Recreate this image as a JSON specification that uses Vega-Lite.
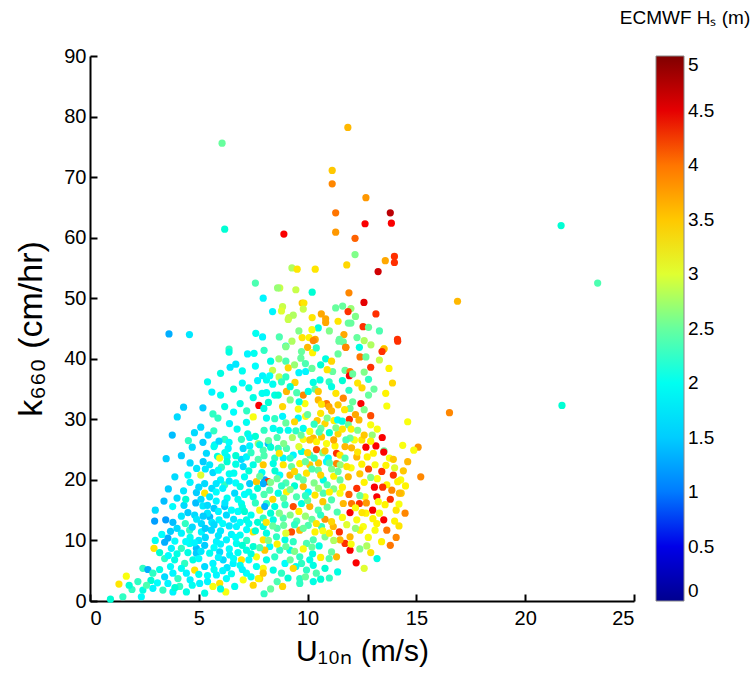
{
"$schema":"https://vega.github.io/schema/vega-lite/v6.json",
"width":544,"height":545,
"autosize":"none",
"padding":{"left":90,"top":56,"right":122,"bottom":76},
"background":"white",
"config":{"view":{"stroke":null},"font":"Liberation Sans",
"axis":{"domainColor":"black","domainWidth":2,"tickColor":"black","tickWidth":2,"tickSize":-7,"labelFont":"Liberation Sans","labelFontSize":20,"labelColor":"black","grid":false,"titleFont":"Liberation Sans","titleFontSize":30,"titleFontWeight":"normal","titleColor":"black"}},
"data":{"values":[
{"u":6.07,"k":75.6,"h":2.5},{"u":6.19,"k":61.4,"h":2.2},{"u":11.85,"k":78.2,"h":3.6},{"u":11.13,"k":71.1,"h":3.5},{"u":11.13,"k":68.9,"h":3.9},{"u":12.68,"k":66.6,"h":3.8},{"u":11.29,"k":64.1,"h":4.0},{"u":13.8,"k":64.1,"h":4.7},{"u":12.64,"k":62.3,"h":4.4},{"u":13.85,"k":62.4,"h":4.4},{"u":8.91,"k":60.6,"h":4.4},{"u":11.29,"k":60.9,"h":3.8},{"u":12.18,"k":59.9,"h":4.1},{"u":12.18,"k":57.2,"h":2.6},{"u":13.99,"k":56.9,"h":4.3},{"u":13.99,"k":55.9,"h":4.3},{"u":13.57,"k":56.2,"h":3.7},{"u":11.8,"k":55.5,"h":3.4},{"u":13.24,"k":54.4,"h":4.6},{"u":9.28,"k":55.0,"h":2.8},{"u":9.52,"k":54.8,"h":3.3},{"u":10.35,"k":54.8,"h":3.3},{"u":8.72,"k":51.7,"h":2.9},{"u":9.46,"k":51.4,"h":2.9},{"u":10.21,"k":51.0,"h":2.2},{"u":11.9,"k":50.9,"h":3.9},{"u":16.89,"k":49.5,"h":3.6},{"u":12.59,"k":49.3,"h":4.5},{"u":8.85,"k":48.6,"h":2.9},{"u":9.75,"k":49.2,"h":3.5},{"u":9.83,"k":49.2,"h":3.3},{"u":9.8,"k":48.2,"h":2.9},{"u":11.29,"k":48.4,"h":2.5},{"u":11.61,"k":48.7,"h":2.5},{"u":11.99,"k":48.3,"h":2.7},{"u":11.86,"k":47.8,"h":4.3},{"u":13.14,"k":47.4,"h":4.3},{"u":9.14,"k":46.8,"h":2.9},{"u":9.34,"k":47.2,"h":2.8},{"u":10.21,"k":46.8,"h":3.3},{"u":10.63,"k":47.4,"h":3.7},{"u":10.83,"k":46.6,"h":3.7},{"u":10.83,"k":46.0,"h":3.7},{"u":10.49,"k":45.1,"h":2.1},{"u":11.87,"k":45.9,"h":2.5},{"u":11.99,"k":45.9,"h":2.5},{"u":12.55,"k":45.3,"h":4.3},{"u":11.67,"k":44.0,"h":3.7},{"u":14.13,"k":43.2,"h":4.3},{"u":9.75,"k":43.5,"h":3.3},{"u":10.07,"k":43.5,"h":3.2},{"u":10.35,"k":43.2,"h":3.7},{"u":9.28,"k":42.9,"h":2.8},{"u":11.46,"k":43.2,"h":2.5},{"u":11.64,"k":42.8,"h":2.5},{"u":12.27,"k":43.5,"h":2.5},{"u":12.6,"k":43.0,"h":2.8},{"u":12.91,"k":42.3,"h":2.8},{"u":9.0,"k":42.1,"h":2.2},{"u":11.75,"k":41.9,"h":4.0},{"u":13.51,"k":41.7,"h":3.2},
{"u":7.6,"k":52.5,"h":2.4},{"u":8.62,"k":51.7,"h":2.7},{"u":7.96,"k":50.0,"h":1.8},{"u":8.8,"k":47.9,"h":3.0},{"u":8.39,"k":47.8,"h":1.8},{"u":9.11,"k":46.5,"h":2.9},{"u":3.63,"k":44.1,"h":1.3},{"u":4.57,"k":44.0,"h":1.7},{"u":7.62,"k":44.2,"h":2.0},{"u":7.93,"k":43.6,"h":1.8},{"u":9.0,"k":42.0,"h":2.6},{"u":6.39,"k":41.6,"h":2.3},
{"u":21.65,"k":62.0,"h":2.2},{"u":23.33,"k":52.5,"h":2.4},{"u":21.69,"k":32.3,"h":2.2},{"u":16.52,"k":31.1,"h":3.9},{"u":14.6,"k":29.6,"h":3.1},{"u":14.37,"k":25.7,"h":3.1},{"u":15.08,"k":25.4,"h":3.8},{"u":14.88,"k":24.9,"h":3.1},{"u":15.2,"k":20.5,"h":3.9},{"u":14.28,"k":20.0,"h":3.1},{"u":14.3,"k":17.8,"h":3.5},
{"u":6.39,"k":41.1,"h":2.1},{"u":7.24,"k":40.8,"h":1.8},{"u":7.54,"k":40.9,"h":2.0},{"u":6.7,"k":39.1,"h":1.7},{"u":6.44,"k":38.6,"h":1.7},{"u":7.93,"k":37.2,"h":1.8},{"u":8.11,"k":36.5,"h":2.0},{"u":7.91,"k":34.3,"h":2.0},{"u":8.11,"k":34.4,"h":2.0},{"u":7.5,"k":33.6,"h":2.1},{"u":7.76,"k":32.3,"h":4.4},{"u":7.99,"k":31.8,"h":2.1},{"u":6.9,"k":32.6,"h":2.1},{"u":6.19,"k":32.1,"h":2.1},{"u":5.19,"k":31.9,"h":1.5},{"u":5.65,"k":30.9,"h":2.3},{"u":5.88,"k":30.2,"h":2.3},{"u":4.01,"k":30.4,"h":1.6},{"u":7.5,"k":30.4,"h":3.1},{"u":8.11,"k":30.2,"h":2.0},{"u":6.41,"k":29.3,"h":1.8},{"u":7.19,"k":29.5,"h":2.0},{"u":5.09,"k":28.7,"h":1.6},{"u":5.69,"k":28.1,"h":2.3},{"u":6.76,"k":28.4,"h":2.0},{"u":3.78,"k":27.4,"h":1.4},{"u":4.52,"k":26.5,"h":2.3},{"u":5.43,"k":27.4,"h":1.6},{"u":5.19,"k":26.2,"h":1.5},{"u":7.25,"k":27.6,"h":2.1},{"u":7.34,"k":27.0,"h":1.8},{"u":6.19,"k":26.7,"h":2.3},{"u":6.96,"k":26.7,"h":2.3},{"u":5.73,"k":25.8,"h":1.8},{"u":6.39,"k":26.2,"h":1.9},{"u":6.35,"k":25.2,"h":1.8},{"u":5.93,"k":26.4,"h":1.6},{"u":5.35,"k":24.4,"h":1.6},{"u":5.86,"k":23.9,"h":2.1},{"u":6.3,"k":23.8,"h":1.8},{"u":5.96,"k":23.6,"h":3.1},{"u":7.04,"k":25.2,"h":1.6},{"u":7.34,"k":25.6,"h":1.8},{"u":7.73,"k":26.0,"h":2.7},{"u":8.19,"k":26.0,"h":1.4},{"u":7.96,"k":24.9,"h":2.4},{"u":6.96,"k":23.4,"h":1.6},{"u":7.19,"k":23.8,"h":1.8},{"u":5.7,"k":25.5,"h":2.0},{"u":7.73,"k":23.4,"h":2.4},
{"u":10.0,"k":41.9,"h":3.6},{"u":10.23,"k":41.0,"h":3.2},{"u":9.72,"k":41.2,"h":2.5},{"u":10.26,"k":43.0,"h":3.9},{"u":11.44,"k":42.9,"h":2.5},{"u":11.76,"k":41.9,"h":3.9},{"u":12.38,"k":41.9,"h":2.1},{"u":13.51,"k":41.6,"h":3.6},{"u":13.42,"k":41.2,"h":4.3},{"u":14.14,"k":42.9,"h":4.3},{"u":12.41,"k":40.3,"h":4.0},{"u":12.68,"k":40.3,"h":2.5},{"u":8.68,"k":40.0,"h":2.7},{"u":9.0,"k":39.6,"h":2.4},{"u":9.69,"k":40.1,"h":2.5},{"u":10.83,"k":40.0,"h":2.1},{"u":8.39,"k":38.1,"h":2.9},{"u":8.26,"k":37.2,"h":1.9},{"u":8.69,"k":37.0,"h":2.9},{"u":9.11,"k":38.5,"h":3.4},{"u":9.6,"k":37.7,"h":1.8},{"u":9.91,"k":37.9,"h":1.8},{"u":11.15,"k":37.9,"h":2.5},{"u":11.72,"k":38.1,"h":2.5},{"u":11.95,"k":37.9,"h":4.0},{"u":11.92,"k":37.2,"h":4.4},{"u":12.07,"k":37.5,"h":2.5},{"u":13.74,"k":38.4,"h":3.2},{"u":13.05,"k":35.0,"h":2.5},{"u":13.59,"k":34.3,"h":3.2},{"u":13.64,"k":32.2,"h":3.1},{"u":12.45,"k":32.6,"h":4.4},{"u":11.64,"k":33.5,"h":3.9},{"u":12.07,"k":32.9,"h":2.5},{"u":11.95,"k":31.8,"h":2.5},{"u":11.3,"k":34.3,"h":3.3},{"u":10.87,"k":32.6,"h":4.0},{"u":10.98,"k":32.1,"h":3.7},{"u":10.49,"k":33.2,"h":3.6},{"u":10.64,"k":32.5,"h":3.3},{"u":9.88,"k":32.6,"h":3.1},{"u":9.61,"k":32.9,"h":2.1},{"u":9.8,"k":34.0,"h":3.9},{"u":9.42,"k":36.1,"h":3.4},{"u":9.03,"k":34.6,"h":3.6},{"u":10.26,"k":36.1,"h":2.1},{"u":10.57,"k":36.5,"h":2.1},{"u":10.99,"k":36.2,"h":2.3},{"u":11.1,"k":35.4,"h":2.1},{"u":10.34,"k":35.0,"h":2.4},{"u":10.49,"k":34.6,"h":3.5},{"u":10.03,"k":34.6,"h":2.1},{"u":8.49,"k":34.0,"h":2.1},{"u":8.65,"k":34.0,"h":2.2},{"u":8.85,"k":32.1,"h":3.4},{"u":8.49,"k":30.1,"h":2.3},{"u":8.85,"k":30.5,"h":1.8},{"u":9.57,"k":31.7,"h":3.1},{"u":9.57,"k":30.2,"h":1.8},{"u":9.91,"k":30.5,"h":3.1},{"u":10.44,"k":29.8,"h":3.5},{"u":10.8,"k":29.3,"h":3.4},{"u":11.21,"k":29.8,"h":3.2},{"u":11.38,"k":29.9,"h":1.9},{"u":11.59,"k":29.7,"h":2.1},{"u":11.92,"k":30.0,"h":4.3},{"u":11.87,"k":29.1,"h":2.5},{"u":12.36,"k":29.9,"h":3.6},{"u":12.9,"k":29.1,"h":3.1},{"u":12.97,"k":27.4,"h":2.7},{"u":13.43,"k":27.0,"h":4.4},{"u":13.14,"k":25.6,"h":4.4},{"u":12.68,"k":25.4,"h":4.4},{"u":13.51,"k":24.8,"h":2.5},{"u":13.02,"k":24.4,"h":3.2},{"u":12.74,"k":23.8,"h":3.2},{"u":13.76,"k":23.6,"h":3.1},{"u":13.94,"k":23.4,"h":3.5},{"u":12.49,"k":26.6,"h":3.3},{"u":12.15,"k":26.6,"h":3.1},{"u":11.95,"k":26.9,"h":2.5},{"u":11.76,"k":26.6,"h":2.4},{"u":11.26,"k":25.6,"h":3.2},{"u":11.72,"k":25.5,"h":3.6},{"u":12.02,"k":25.3,"h":3.6},{"u":11.33,"k":24.4,"h":4.3},{"u":11.49,"k":24.1,"h":3.3},{"u":10.87,"k":26.0,"h":3.1},{"u":10.41,"k":25.0,"h":4.2},{"u":10.64,"k":27.1,"h":3.5},{"u":10.26,"k":26.9,"h":3.6},{"u":10.41,"k":26.3,"h":3.2},{"u":9.8,"k":26.7,"h":3.1},{"u":10.1,"k":26.6,"h":3.5},{"u":10.61,"k":28.5,"h":2.5},{"u":10.53,"k":27.9,"h":2.4},{"u":9.8,"k":28.5,"h":2.0},{"u":9.46,"k":28.1,"h":2.3},{"u":9.11,"k":28.2,"h":2.0},{"u":8.72,"k":28.2,"h":2.1},{"u":8.42,"k":28.5,"h":2.0},{"u":8.65,"k":25.2,"h":2.3},{"u":9.03,"k":25.2,"h":2.4},{"u":9.34,"k":24.1,"h":1.8},{"u":9.72,"k":24.7,"h":2.1},{"u":10.1,"k":24.1,"h":2.4},{"u":8.88,"k":23.6,"h":1.8},{"u":8.49,"k":23.6,"h":2.3},{"u":10.95,"k":23.6,"h":1.9},{"u":11.72,"k":23.6,"h":2.4},{"u":12.26,"k":23.8,"h":3.6},{"u":11.33,"k":22.7,"h":3.9},{"u":12.49,"k":22.6,"h":3.2},{"u":13.1,"k":22.5,"h":3.1},
{"u":13.94,"k":20.8,"h":4.3},{"u":13.41,"k":21.4,"h":4.3},{"u":14.14,"k":19.7,"h":3.2},{"u":13.64,"k":19.2,"h":3.2},{"u":13.07,"k":18.8,"h":4.4},{"u":13.45,"k":18.8,"h":4.3},{"u":13.87,"k":18.3,"h":3.9},{"u":14.22,"k":17.8,"h":3.6},{"u":13.18,"k":17.2,"h":4.4},{"u":12.64,"k":17.2,"h":3.1},{"u":13.25,"k":16.4,"h":3.1},{"u":13.56,"k":15.9,"h":3.2},{"u":14.07,"k":15.0,"h":3.3},{"u":14.48,"k":14.5,"h":3.9},{"u":12.99,"k":15.0,"h":4.4},{"u":13.3,"k":14.5,"h":3.1},{"u":12.68,"k":14.5,"h":3.2},{"u":12.26,"k":18.6,"h":4.3},{"u":12.38,"k":16.1,"h":4.3},{"u":12.02,"k":16.1,"h":4.0},{"u":11.95,"k":14.6,"h":4.4},{"u":11.64,"k":16.1,"h":3.6},{"u":11.36,"k":14.7,"h":2.4},{"u":12.26,"k":13.4,"h":3.1},{"u":12.56,"k":12.3,"h":3.1},{"u":13.18,"k":12.8,"h":3.2},{"u":13.1,"k":11.7,"h":3.1},{"u":13.64,"k":11.7,"h":4.0},{"u":14.07,"k":10.5,"h":3.9},{"u":12.79,"k":10.5,"h":3.1},{"u":12.72,"k":9.1,"h":2.8},{"u":12.41,"k":11.7,"h":3.2},{"u":11.95,"k":10.6,"h":3.6},{"u":11.46,"k":11.4,"h":4.3},{"u":11.18,"k":12.3,"h":3.6},{"u":11.1,"k":13.1,"h":3.4},{"u":10.8,"k":13.5,"h":3.8},{"u":11.72,"k":9.5,"h":4.3},{"u":11.95,"k":8.4,"h":4.4},{"u":11.49,"k":10.1,"h":3.6},{"u":12.23,"k":6.3,"h":4.4},{"u":13.19,"k":7.0,"h":2.1},{"u":11.38,"k":4.8,"h":2.1},{"u":11.33,"k":7.3,"h":3.6},{"u":10.99,"k":7.0,"h":2.4},{"u":11.1,"k":8.1,"h":2.5},{"u":10.53,"k":9.1,"h":2.1},{"u":10.26,"k":10.1,"h":2.4},{"u":9.95,"k":9.5,"h":2.4},{"u":10.23,"k":7.8,"h":2.1},{"u":10.1,"k":6.8,"h":2.1},{"u":9.64,"k":7.3,"h":2.3},{"u":9.72,"k":6.2,"h":2.3},{"u":9.46,"k":5.7,"h":2.0},{"u":10.26,"k":5.9,"h":2.1},{"u":10.6,"k":3.6,"h":2.2},{"u":10.26,"k":3.2,"h":2.1},{"u":9.64,"k":2.9,"h":2.3},{"u":9.64,"k":3.7,"h":2.3},{"u":9.34,"k":5.4,"h":3.4},{"u":8.85,"k":2.4,"h":3.4},{"u":7.8,"k":3.7,"h":3.4},{"u":8.03,"k":20.0,"h":1.2},{"u":8.19,"k":19.7,"h":4.3},{"u":7.96,"k":19.4,"h":1.3},{"u":10.03,"k":18.0,"h":1.9},{"u":11.1,"k":21.8,"h":2.6},
{"u":7.96,"k":22.5,"h":3.5},{"u":8.42,"k":22.7,"h":2.1},{"u":8.88,"k":22.5,"h":3.3},{"u":9.26,"k":22.2,"h":2.5},{"u":9.64,"k":22.7,"h":3.2},{"u":10.1,"k":22.5,"h":3.5},{"u":10.49,"k":21.6,"h":2.5},{"u":10.87,"k":23.0,"h":1.9},{"u":8.72,"k":20.8,"h":1.9},{"u":9.19,"k":20.8,"h":3.6},{"u":9.57,"k":20.5,"h":2.4},{"u":9.95,"k":21.1,"h":3.3},{"u":10.72,"k":20.0,"h":2.1},{"u":11.49,"k":20.0,"h":2.5},{"u":11.87,"k":20.5,"h":3.6},{"u":8.26,"k":18.3,"h":2.4},{"u":8.65,"k":17.8,"h":2.1},{"u":9.03,"k":18.0,"h":3.2},{"u":9.49,"k":17.2,"h":2.4},{"u":9.8,"k":18.9,"h":3.6},{"u":10.34,"k":17.5,"h":3.3},{"u":10.72,"k":17.8,"h":2.4},{"u":11.1,"k":16.7,"h":2.4},{"u":11.49,"k":17.8,"h":3.1},{"u":8.11,"k":16.1,"h":2.3},{"u":8.49,"k":15.6,"h":2.1},{"u":8.96,"k":15.9,"h":2.3},{"u":9.34,"k":15.6,"h":4.2},{"u":9.72,"k":16.1,"h":2.1},{"u":10.1,"k":15.6,"h":3.6},{"u":10.49,"k":15.0,"h":2.4},{"u":7.96,"k":13.7,"h":2.3},{"u":8.42,"k":13.4,"h":2.1},{"u":8.88,"k":13.7,"h":2.4},{"u":9.26,"k":11.4,"h":4.2},{"u":9.64,"k":11.7,"h":3.6},{"u":10.03,"k":12.5,"h":2.4},{"u":10.34,"k":11.4,"h":3.2},{"u":10.64,"k":12.3,"h":2.3},{"u":8.11,"k":11.2,"h":2.1},{"u":8.57,"k":10.6,"h":2.3},{"u":8.96,"k":10.1,"h":2.1},{"u":9.34,"k":9.8,"h":2.3},{"u":8.26,"k":9.0,"h":1.9},{"u":8.72,"k":8.4,"h":2.3},{"u":9.19,"k":8.4,"h":2.1},{"u":8.11,"k":6.8,"h":2.1},{"u":8.49,"k":7.3,"h":2.3},{"u":8.96,"k":6.2,"h":1.9},{"u":8.42,"k":5.1,"h":2.1},{"u":7.96,"k":5.4,"h":3.1},{"u":9.95,"k":5.1,"h":2.3},
{"u":5.09,"k":20.8,"h":3.0},{"u":5.65,"k":21.2,"h":1.6},{"u":6.04,"k":22.1,"h":2.3},{"u":6.61,"k":21.1,"h":2.0},{"u":5.27,"k":19.4,"h":1.6},{"u":6.19,"k":19.2,"h":2.3},{"u":4.89,"k":17.9,"h":1.5},{"u":5.27,"k":17.8,"h":3.3},{"u":4.32,"k":15.8,"h":1.6},{"u":4.86,"k":16.2,"h":1.4},{"u":5.19,"k":15.7,"h":1.7},{"u":5.7,"k":15.3,"h":1.5},{"u":6.19,"k":15.6,"h":1.5},{"u":6.65,"k":17.8,"h":1.6},{"u":6.96,"k":16.1,"h":2.0},{"u":2.97,"k":13.2,"h":1.2},{"u":3.48,"k":13.4,"h":1.2},{"u":3.81,"k":13.0,"h":1.4},{"u":4.38,"k":12.8,"h":2.3},{"u":4.81,"k":14.2,"h":1.6},{"u":5.12,"k":12.8,"h":1.6},{"u":5.5,"k":13.9,"h":1.4},{"u":5.93,"k":13.4,"h":1.8},{"u":6.27,"k":14.2,"h":1.6},{"u":6.73,"k":12.3,"h":1.8},{"u":4.58,"k":11.7,"h":2.3},{"u":5.12,"k":11.4,"h":1.8},{"u":5.58,"k":11.7,"h":1.6},{"u":3.43,"k":9.7,"h":1.3},{"u":3.58,"k":10.4,"h":1.3},{"u":3.74,"k":8.7,"h":1.8},{"u":4.2,"k":8.7,"h":2.3},{"u":4.58,"k":9.5,"h":2.0},{"u":4.89,"k":8.7,"h":1.4},{"u":5.27,"k":9.2,"h":1.5},{"u":5.81,"k":9.8,"h":1.8},{"u":6.27,"k":10.1,"h":1.8},{"u":6.73,"k":9.5,"h":2.0},{"u":2.94,"k":8.7,"h":3.3},{"u":2.43,"k":5.4,"h":2.3},{"u":2.66,"k":5.2,"h":1.3},{"u":2.89,"k":4.6,"h":2.3},{"u":1.67,"k":4.1,"h":3.1},{"u":1.33,"k":2.8,"h":3.3},{"u":1.93,"k":1.9,"h":2.3},{"u":1.51,"k":0.7,"h":2.3},{"u":0.94,"k":0.3,"h":2.2},{"u":2.36,"k":0.7,"h":1.9},{"u":2.43,"k":1.8,"h":2.1},{"u":2.89,"k":2.1,"h":1.8},{"u":3.35,"k":1.8,"h":2.3},{"u":3.58,"k":2.9,"h":1.8},{"u":3.81,"k":1.5,"h":1.8},{"u":4.12,"k":2.4,"h":2.3},{"u":4.43,"k":1.5,"h":2.1},{"u":3.43,"k":4.0,"h":1.6},{"u":3.81,"k":4.6,"h":1.8},{"u":4.04,"k":3.7,"h":2.3},{"u":4.43,"k":4.6,"h":1.8},{"u":4.81,"k":5.1,"h":3.3},{"u":5.04,"k":2.9,"h":1.8},{"u":5.27,"k":1.3,"h":2.1},{"u":5.65,"k":2.4,"h":3.1},{"u":5.96,"k":2.9,"h":3.3},{"u":6.24,"k":1.5,"h":3.1},{"u":5.81,"k":4.3,"h":1.8},{"u":6.27,"k":3.7,"h":1.9},{"u":6.65,"k":2.4,"h":2.0},{"u":7.04,"k":3.5,"h":3.1},{"u":7.5,"k":2.6,"h":3.4},{"u":7.19,"k":4.6,"h":1.9},{"u":7.73,"k":3.7,"h":3.2},{"u":7.96,"k":4.6,"h":3.5},{"u":7.65,"k":5.7,"h":2.0},{"u":6.96,"k":6.8,"h":3.3},{"u":6.58,"k":6.2,"h":1.8},{"u":6.12,"k":6.8,"h":1.6},{"u":5.65,"k":6.2,"h":1.8},{"u":5.27,"k":5.7,"h":1.6},{"u":4.73,"k":6.8,"h":2.1},{"u":4.35,"k":6.2,"h":2.3},{"u":3.89,"k":6.8,"h":2.1},{"u":3.43,"k":7.0,"h":2.3},{"u":4.89,"k":7.9,"h":1.5},{"u":5.5,"k":7.9,"h":2.0},{"u":5.96,"k":8.1,"h":1.6},{"u":6.42,"k":7.6,"h":1.8},{"u":7.19,"k":8.4,"h":2.1},{"u":7.65,"k":7.3,"h":3.1},{"u":8.03,"k":8.4,"h":3.5},{"u":7.96,"k":10.1,"h":3.3},{"u":7.5,"k":11.4,"h":3.3},{"u":7.96,"k":12.3,"h":2.1},{"u":7.19,"k":13.4,"h":2.1},{"u":7.8,"k":15.0,"h":3.1},{"u":8.03,"k":15.6,"h":1.3},{"u":7.5,"k":17.2,"h":2.1},{"u":7.34,"k":19.4,"h":1.5},{"u":7.65,"k":19.7,"h":3.5},{"u":7.04,"k":22.2,"h":1.6},
{"u":4.6,"k":22.8,"h":1.6},{"u":4.9,"k":21.9,"h":1.7},{"u":5.2,"k":23.0,"h":1.5},
{"u":5.4,"k":14.5,"h":1.7},{"u":5.8,"k":16.5,"h":1.8},{"u":6.1,"k":12.8,"h":1.9},{"u":6.5,"k":11.0,"h":1.8},{"u":5.9,"k":10.8,"h":1.7},{"u":6.8,"k":14.8,"h":1.9},{"u":6.3,"k":17.0,"h":2.0},{"u":5.6,"k":18.6,"h":1.6},{"u":6.9,"k":10.9,"h":2.0},{"u":7.2,"k":11.8,"h":1.9},{"u":7.0,"k":15.5,"h":2.1},{"u":6.6,"k":13.5,"h":1.7},{"u":5.3,"k":10.5,"h":1.6},{"u":4.9,"k":13.5,"h":1.7},{"u":4.6,"k":10.5,"h":2.0},{"u":4.2,"k":11.2,"h":1.8},{"u":3.9,"k":9.9,"h":1.9},{"u":4.5,"k":8.0,"h":2.1},{"u":5.0,"k":7.0,"h":1.9},{"u":5.9,"k":7.2,"h":1.8},{"u":6.3,"k":5.5,"h":1.7},{"u":6.9,"k":5.9,"h":2.0},{"u":7.3,"k":6.8,"h":1.9},{"u":7.5,"k":9.0,"h":2.2},{"u":7.2,"k":10.0,"h":2.3},{"u":7.7,"k":13.0,"h":2.2},{"u":7.4,"k":14.2,"h":2.0},{"u":7.6,"k":16.2,"h":2.3},{"u":8.3,"k":14.5,"h":2.2},{"u":8.6,"k":12.0,"h":2.4},{"u":8.9,"k":12.5,"h":2.5},{"u":9.2,"k":14.2,"h":2.6},{"u":9.5,"k":13.2,"h":2.4},{"u":9.9,"k":14.0,"h":2.7},{"u":10.2,"k":13.5,"h":2.5},{"u":10.6,"k":14.2,"h":2.3},{"u":10.9,"k":15.5,"h":2.5},{"u":11.2,"k":18.5,"h":2.6},{"u":11.5,"k":22.5,"h":2.7},{"u":10.7,"k":24.5,"h":2.6},{"u":10.3,"k":19.5,"h":2.6},{"u":9.8,"k":20.0,"h":2.5},{"u":9.0,"k":19.5,"h":2.4},{"u":8.5,"k":21.5,"h":2.2},{"u":7.9,"k":21.2,"h":2.0},{"u":7.5,"k":22.5,"h":2.1},{"u":7.1,"k":20.5,"h":2.0},{"u":6.7,"k":19.5,"h":1.9},{"u":6.4,"k":21.0,"h":2.0},{"u":6.0,"k":20.0,"h":1.8},{"u":5.5,"k":22.5,"h":1.7},{"u":6.2,"k":24.5,"h":2.0},{"u":6.7,"k":24.0,"h":2.2},{"u":7.4,"k":24.5,"h":2.3},{"u":8.0,"k":24.0,"h":2.4},{"u":8.2,"k":26.5,"h":2.5},{"u":8.9,"k":26.0,"h":2.6},{"u":9.3,"k":27.0,"h":2.8},{"u":9.6,"k":25.5,"h":3.0},{"u":10.0,"k":24.5,"h":3.4},{"u":10.5,"k":22.8,"h":3.5},
{"u":4.7,"k":12.2,"h":1.6},{"u":5.0,"k":10.0,"h":1.7},{"u":5.3,"k":12.0,"h":1.5},{"u":5.6,"k":13.0,"h":1.7},{"u":5.9,"k":14.8,"h":1.8},{"u":6.2,"k":16.2,"h":1.7},{"u":6.5,"k":15.0,"h":1.9},{"u":6.8,"k":16.8,"h":2.0},{"u":7.1,"k":17.6,"h":1.9},{"u":5.1,"k":16.8,"h":1.6},{"u":5.5,"k":17.2,"h":1.7},{"u":5.8,"k":18.0,"h":1.9},{"u":6.1,"k":18.6,"h":1.8},{"u":6.4,"k":19.8,"h":1.7},{"u":6.9,"k":18.9,"h":2.1},{"u":7.3,"k":18.0,"h":2.0},{"u":4.5,"k":14.6,"h":1.5},{"u":4.2,"k":14.0,"h":1.7},{"u":4.0,"k":12.0,"h":1.6},{"u":3.7,"k":11.5,"h":1.5},{"u":3.3,"k":11.0,"h":1.9},{"u":3.0,"k":10.0,"h":2.0},{"u":3.2,"k":8.0,"h":2.2},{"u":3.6,"k":7.5,"h":1.9},{"u":4.0,"k":7.8,"h":2.1},{"u":4.4,"k":9.8,"h":1.9},{"u":4.8,"k":9.6,"h":1.8},{"u":5.1,"k":8.2,"h":1.7},{"u":5.7,"k":8.8,"h":1.9},{"u":6.0,"k":9.4,"h":1.8},{"u":6.4,"k":8.6,"h":1.9},{"u":6.8,"k":8.0,"h":2.0},{"u":7.0,"k":9.2,"h":2.2},{"u":7.4,"k":7.8,"h":2.1},{"u":6.6,"k":7.0,"h":1.9},{"u":6.1,"k":5.0,"h":1.8},{"u":5.7,"k":5.2,"h":2.0},{"u":5.4,"k":4.2,"h":1.9},{"u":5.0,"k":4.4,"h":2.0},{"u":4.6,"k":3.5,"h":1.8},{"u":4.2,"k":5.4,"h":2.0},{"u":3.7,"k":5.7,"h":1.9},{"u":3.2,"k":5.2,"h":2.1},{"u":2.8,"k":3.4,"h":2.2},{"u":3.1,"k":3.0,"h":1.9},{"u":3.9,"k":2.2,"h":2.2},{"u":4.7,"k":2.6,"h":2.0},{"u":5.4,"k":3.2,"h":1.8},{"u":6.0,"k":2.0,"h":2.1},{"u":6.5,"k":4.5,"h":2.0},{"u":7.0,"k":5.2,"h":1.8},{"u":7.4,"k":4.0,"h":2.0},{"u":2.2,"k":3.2,"h":2.3},{"u":2.6,"k":2.6,"h":2.4},{"u":1.8,"k":2.6,"h":2.2},{"u":6.4,"k":12.4,"h":1.7},{"u":6.9,"k":13.0,"h":1.9},{"u":7.3,"k":12.8,"h":2.0},{"u":7.6,"k":11.6,"h":2.2},{"u":5.2,"k":14.0,"h":1.5},{"u":5.7,"k":12.6,"h":1.6},{"u":6.0,"k":11.6,"h":1.7},{"u":5.4,"k":15.8,"h":1.6},{"u":6.7,"k":10.5,"h":1.9},{"u":7.1,"k":14.8,"h":2.2},{"u":5.0,"k":18.8,"h":1.6},{"u":5.8,"k":19.4,"h":1.7},{"u":4.6,"k":19.6,"h":1.8},{"u":4.3,"k":18.2,"h":1.7},{"u":4.0,"k":17.0,"h":1.6},{"u":3.8,"k":15.6,"h":1.9},{"u":4.4,"k":16.8,"h":2.2},{"u":5.3,"k":21.8,"h":1.7},{"u":5.9,"k":21.6,"h":1.9},{"u":6.7,"k":22.6,"h":2.1},{"u":6.3,"k":23.0,"h":2.2},{"u":7.3,"k":21.5,"h":2.2},{"u":4.2,"k":24.0,"h":1.5},{"u":4.7,"k":25.4,"h":1.6},{"u":3.5,"k":23.5,"h":1.5},{"u":3.9,"k":20.5,"h":1.6},{"u":4.5,"k":20.8,"h":1.9},{"u":3.4,"k":16.5,"h":1.4},{"u":3.0,"k":15.0,"h":1.6},{"u":3.6,"k":18.5,"h":1.5},
{"u":7.8,"k":8.8,"h":2.4},{"u":8.2,"k":10.0,"h":2.6},{"u":8.6,"k":9.4,"h":3.2},{"u":9.0,"k":9.0,"h":2.5},{"u":9.4,"k":8.2,"h":2.6},{"u":9.8,"k":8.6,"h":3.1},{"u":10.2,"k":8.9,"h":2.5},{"u":10.6,"k":7.2,"h":3.2},{"u":10.8,"k":10.6,"h":2.6},{"u":10.4,"k":12.8,"h":3.3},{"u":9.8,"k":12.0,"h":2.5},{"u":9.4,"k":12.6,"h":2.3},{"u":9.0,"k":11.2,"h":3.0},{"u":8.4,"k":12.4,"h":2.5},{"u":8.1,"k":13.0,"h":3.3},{"u":8.7,"k":14.5,"h":2.6},{"u":9.6,"k":14.8,"h":3.2},{"u":10.0,"k":16.6,"h":2.5},{"u":10.7,"k":16.4,"h":3.5},{"u":11.0,"k":18.0,"h":3.2},{"u":10.9,"k":19.2,"h":2.4},{"u":10.5,"k":18.6,"h":2.7},{"u":9.9,"k":17.4,"h":2.3},{"u":9.4,"k":19.0,"h":2.2},{"u":8.9,"k":17.0,"h":2.5},{"u":8.4,"k":16.8,"h":3.4},{"u":8.0,"k":17.6,"h":2.4},{"u":8.3,"k":19.6,"h":2.6},{"u":8.8,"k":19.0,"h":2.3},{"u":9.2,"k":18.4,"h":2.6},{"u":7.7,"k":18.6,"h":2.2},{"u":7.8,"k":20.6,"h":2.5},{"u":8.6,"k":20.2,"h":2.5},{"u":9.4,"k":21.4,"h":3.4},{"u":10.2,"k":21.8,"h":2.4},{"u":10.6,"k":20.8,"h":3.4},{"u":11.2,"k":20.6,"h":3.2},{"u":11.0,"k":22.8,"h":2.4},{"u":10.3,"k":23.6,"h":2.3},{"u":9.9,"k":23.0,"h":2.5},{"u":9.2,"k":23.6,"h":2.3},{"u":8.7,"k":24.4,"h":3.3},{"u":8.3,"k":25.4,"h":2.2},{"u":7.8,"k":25.8,"h":2.1},{"u":7.6,"k":27.2,"h":2.2},{"u":8.0,"k":28.2,"h":2.3},{"u":8.6,"k":27.0,"h":2.4},{"u":9.0,"k":29.4,"h":2.5},{"u":9.4,"k":29.6,"h":3.4},{"u":9.7,"k":27.4,"h":2.5},{"u":10.1,"k":28.0,"h":3.1},{"u":10.3,"k":29.2,"h":2.3},{"u":10.0,"k":30.8,"h":2.5},{"u":10.6,"k":31.0,"h":3.3},{"u":10.9,"k":30.2,"h":2.6},{"u":11.1,"k":31.4,"h":3.6},{"u":11.4,"k":27.6,"h":3.4},{"u":11.3,"k":28.6,"h":2.6},{"u":11.0,"k":27.8,"h":2.2},{"u":10.8,"k":24.8,"h":3.5},{"u":11.2,"k":26.6,"h":3.7},{"u":11.6,"k":28.4,"h":3.3},{"u":12.0,"k":28.4,"h":3.2},{"u":12.3,"k":28.2,"h":2.6},{"u":12.6,"k":27.4,"h":3.5},{"u":12.2,"k":30.8,"h":3.7},{"u":11.7,"k":31.6,"h":3.3},{"u":12.6,"k":31.6,"h":2.6},{"u":12.9,"k":30.6,"h":4.2},{"u":13.2,"k":28.4,"h":3.1},
{"u":9.2,"k":6.8,"h":2.5},{"u":8.8,"k":4.6,"h":2.3},{"u":9.1,"k":3.8,"h":2.2},{"u":8.6,"k":3.2,"h":2.4},{"u":9.9,"k":4.0,"h":2.5},{"u":10.4,"k":4.6,"h":2.4},{"u":10.8,"k":5.4,"h":2.2},{"u":11.0,"k":3.8,"h":2.3},{"u":8.3,"k":2.0,"h":2.5},{"u":8.0,"k":1.2,"h":2.3},
{"u":12.0,"k":22.0,"h":3.1},{"u":12.4,"k":21.0,"h":3.5},{"u":12.8,"k":21.8,"h":4.2},{"u":13.2,"k":20.2,"h":3.1},{"u":12.6,"k":19.6,"h":3.2},{"u":12.9,"k":20.4,"h":2.6},{"u":13.6,"k":22.4,"h":3.2},{"u":14.0,"k":22.0,"h":3.0},{"u":14.4,"k":21.5,"h":3.5},{"u":13.8,"k":16.8,"h":4.3},{"u":14.2,"k":16.0,"h":3.1},{"u":14.0,"k":13.2,"h":3.2},{"u":13.5,"k":13.4,"h":4.4},{"u":13.0,"k":13.6,"h":3.2},{"u":12.5,"k":14.6,"h":3.3},{"u":12.2,"k":12.0,"h":2.7},{"u":11.8,"k":12.6,"h":3.0},{"u":11.6,"k":13.8,"h":3.1},{"u":11.2,"k":10.0,"h":2.8},{"u":11.0,"k":11.2,"h":3.2},{"u":10.7,"k":11.6,"h":3.1},{"u":12.0,"k":9.4,"h":3.1},{"u":12.4,"k":8.6,"h":2.6},{"u":12.9,"k":8.0,"h":3.3},{"u":13.4,"k":9.8,"h":3.2},{"u":13.8,"k":9.2,"h":4.0},{"u":14.2,"k":12.4,"h":3.3},{"u":12.7,"k":16.2,"h":3.8},{"u":12.2,"k":15.4,"h":3.1},{"u":11.6,"k":18.8,"h":3.2},{"u":11.9,"k":17.6,"h":4.1},{"u":12.4,"k":17.4,"h":2.5},{"u":13.5,"k":24.6,"h":4.4},{"u":12.3,"k":24.6,"h":3.3},{"u":12.9,"k":26.4,"h":3.2},{"u":11.4,"k":21.4,"h":2.5},{"u":11.8,"k":22.2,"h":3.3},{"u":14.6,"k":23.0,"h":3.6},{"u":14.5,"k":19.0,"h":3.2},{"u":12.6,"k":5.4,"h":3.0},
{"u":7.0,"k":36.0,"h":1.9},{"u":7.3,"k":35.2,"h":2.1},{"u":7.7,"k":36.4,"h":1.8},{"u":8.4,"k":35.8,"h":2.0},{"u":8.8,"k":36.2,"h":2.3},{"u":9.2,"k":35.4,"h":2.2},{"u":9.5,"k":34.4,"h":2.4},{"u":9.2,"k":33.2,"h":2.6},{"u":8.2,"k":32.8,"h":2.2},{"u":7.2,"k":31.4,"h":2.3},{"u":6.6,"k":31.2,"h":1.9},{"u":6.0,"k":34.0,"h":2.0},{"u":6.6,"k":35.0,"h":2.2},{"u":7.0,"k":38.0,"h":2.0},{"u":7.6,"k":38.8,"h":1.9},{"u":8.3,"k":39.6,"h":2.1},{"u":8.0,"k":41.4,"h":2.3},{"u":8.7,"k":43.6,"h":2.4},{"u":9.6,"k":44.6,"h":2.6},{"u":10.4,"k":41.8,"h":2.3},{"u":10.6,"k":39.0,"h":2.2},{"u":11.1,"k":39.6,"h":3.4},{"u":11.4,"k":40.8,"h":2.5},{"u":10.9,"k":38.2,"h":3.3},{"u":11.6,"k":36.4,"h":2.2},{"u":12.3,"k":36.0,"h":3.3},{"u":12.6,"k":37.8,"h":2.6},{"u":12.9,"k":38.6,"h":4.3},{"u":12.8,"k":34.0,"h":2.5},{"u":12.5,"k":35.2,"h":3.4},{"u":11.9,"k":34.8,"h":2.3},{"u":11.4,"k":32.4,"h":3.5},{"u":10.2,"k":38.4,"h":2.5},{"u":9.9,"k":39.2,"h":2.4},{"u":9.4,"k":39.0,"h":2.7},{"u":9.0,"k":37.0,"h":2.3},{"u":10.2,"k":44.8,"h":3.1},{"u":11.0,"k":44.6,"h":2.6},{"u":11.4,"k":46.2,"h":3.3},{"u":12.2,"k":47.0,"h":2.6},{"u":12.8,"k":45.2,"h":2.5},{"u":13.3,"k":44.6,"h":2.4},{"u":13.3,"k":39.8,"h":2.9},{"u":12.8,"k":36.6,"h":2.3},{"u":13.9,"k":36.0,"h":3.4},
{"u":4.3,"k":32.0,"h":1.5},{"u":5.6,"k":34.5,"h":1.8},{"u":4.8,"k":27.8,"h":1.6},{"u":6.0,"k":37.6,"h":2.1},{"u":5.4,"k":36.2,"h":2.0}
]},
"mark":{"type":"point","filled":true,"shape":"circle","size":52,"opacity":1},
"encoding":{
"x":{"field":"u","type":"quantitative","scale":{"domain":[0,25],"nice":false},"axis":{"values":[0,5,10,15,20,25],"title":"U₁₀ₙ (m/s)","titleFontSize":30,"titlePadding":8,"labelPadding":14}},
"y":{"field":"k","type":"quantitative","scale":{"domain":[0,90],"nice":false},"axis":{"values":[0,10,20,30,40,50,60,70,80,90],"title":"k₆₆₀ (cm/hr)","titleFontSize":34,"titlePadding":15,"labelPadding":11}},
"color":{"field":"h","type":"quantitative","scale":{"domain":[0,0.625,1.875,3.125,4.375,5],"range":["#00008f","#0000ff","#00ffff","#ffff00","#ff0000","#800000"]},
"legend":{"orient":"none","legendX":530,"legendY":-47,"direction":"vertical","gradientLength":545,"gradientThickness":28,"values":[0,0.5,1,1.5,2,2.5,3,3.5,4,4.5,5],"labelExpr":"datum.value","labelBaseline":"middle","labelAlign":"left","labelFontSize":19,"labelFont":"Liberation Sans","labelColor":"black","labelOffset":4,"title":"ECMWF Hₛ (m)","titleFont":"Liberation Sans","titleFontSize":19,"titleFontWeight":"normal","titleColor":"black","titleAnchor":"middle","titleAlign":"center","titlePadding":28,"gradientStrokeColor":"#888","gradientStrokeWidth":1}}
}
}
